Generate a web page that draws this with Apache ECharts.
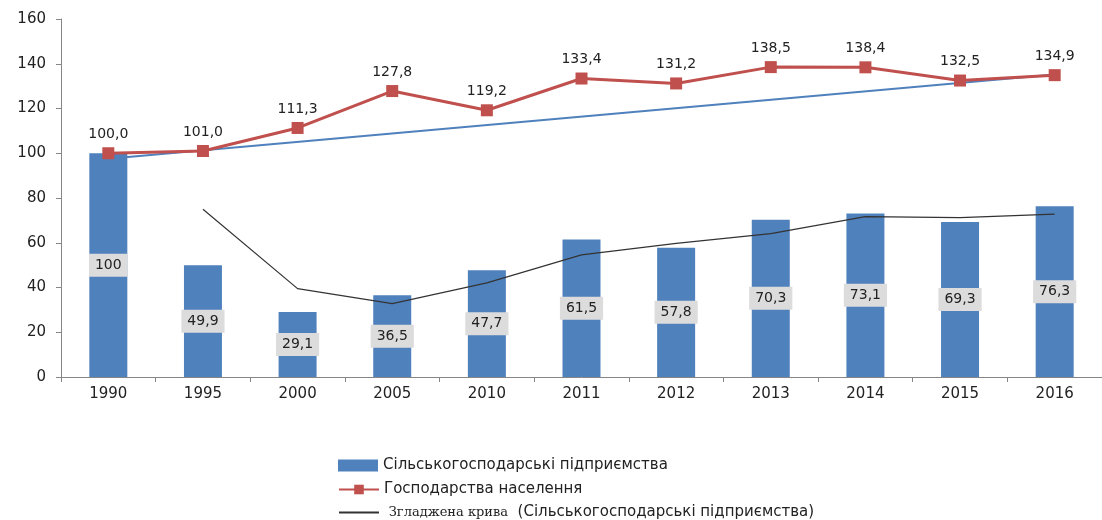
<!DOCTYPE html>
<html>
<head>
<meta charset="utf-8">
<script src="https://cdn.jsdelivr.net/npm/echarts@6/dist/echarts.min.js"></script>
<style>
  html, body { margin: 0; padding: 0; background: #fff; }
  #chart { width: 1102px; height: 520px; }
</style>
</head>
<body>
<div id="chart"></div>
<script>
// роки
const years = ['1990', '1995', '2000', '2005', '2010', '2011', '2012', '2013', '2014', '2015', '2016']
// Сільськогосподарські підприємства
const enterprises = [100, 49.9, 29.1, 36.5, 47.7, 61.5, 57.8, 70.3, 73.1, 69.3, 76.3]
// Господарства населення
const households = [100.0, 101.0, 111.3, 127.8, 119.2, 133.4, 131.2, 138.5, 138.4, 132.5, 134.9]
// Згладжена крива
const smoothed = [null, 75.0, 39.5, 32.8, 42.1, 54.6, 59.7, 64.1, 71.7, 71.2, 72.8]
// лінія тренду: початок і кінець
const trend = [[0, 97.5], [10, 135.2]]
const yTicks = [0, 20, 40, 60, 80, 100, 120, 140, 160]

const names = [
  'Сільськогосподарські підприємства',
  'Господарства населення',
  'Згладжена крива  (Сільськогосподарські підприємства)'
]

const fmt = v => v.toFixed(1).replace('.', ',')

// окрема легенда для кожного рядка
function legendRow (name, top, extra) {
  return Object.assign({
    orient: 'vertical',
    left: 338,
    top: top,
    padding: 0,
    itemWidth: 40,
    itemHeight: 12,
    data: [name],
    textStyle: {
      fontSize: 15,
      color: '#222',
      rich: { s: { fontFamily: 'DejaVu Serif', fontSize: 13, color: '#222' } }
    }
  }, extra || {})
}

let myChart = echarts.init(document.getElementById('chart'))
let option = {
  animation: false,
  textStyle: { fontFamily: 'DejaVu Sans' },
  grid: {
    left: 61,
    top: 19,
    width: 1045,
    height: 358
  },
  legend: [
    legendRow(names[0], 458, {
      data: [{ name: names[0], icon: 'rect' }]
    }),
    legendRow(names[1], 482),
    legendRow(names[2], 505, {
      data: [{ name: names[2], itemStyle: { opacity: 0 } }],
      formatter: () => ' {s|Згладжена крива}  (Сільськогосподарські підприємства)'
    })
  ],
  xAxis: {
    type: 'category',
    data: years,
    axisLine: { lineStyle: { color: '#868686' } },
    axisTick: { show: true, length: 5, lineStyle: { color: '#868686' } },
    axisLabel: { color: '#222', fontSize: 15, margin: 10 }
  },
  yAxis: {
    type: 'value',
    min: yTicks[0],
    max: yTicks[yTicks.length - 1],
    interval: 20,
    axisLine: { show: true, lineStyle: { color: '#868686' } },
    axisTick: { show: true, length: 5, lineStyle: { color: '#868686' } },
    axisLabel: { color: '#222', fontSize: 15, margin: 15 },
    splitLine: { show: false }
  },
  series: [
    {
      name: names[0],
      type: 'bar',
      data: enterprises,
      barWidth: 38,
      itemStyle: { color: '#4F81BD' },
      label: {
        show: true,
        position: 'inside',
        color: '#222',
        fontSize: 14,
        backgroundColor: '#DCDCDC',
        padding: [5, 6, 4, 6],
        formatter: p => (p.value === 100 ? '100' : fmt(p.value))
      },
      z: 1
    },
    {
      name: 'trend',
      type: 'line',
      data: trend,
      symbol: 'none',
      lineStyle: { color: '#4F81BD', width: 2 },
      z: 2
    },
    {
      name: names[1],
      type: 'line',
      data: households,
      symbol: 'rect',
      symbolSize: 12,
      itemStyle: { color: '#C0504D' },
      lineStyle: { color: '#C0504D', width: 3 },
      label: {
        show: true,
        position: 'top',
        distance: 6,
        color: '#222',
        fontSize: 14,
        formatter: p => fmt(p.value)
      },
      z: 3
    },
    {
      name: names[2],
      type: 'line',
      data: smoothed,
      symbol: 'none',
      itemStyle: { color: '#222' },
      lineStyle: { color: '#333', width: 1.2 },
      z: 2
    }
  ]
}
myChart.setOption(option)
</script>
</body>
</html>
